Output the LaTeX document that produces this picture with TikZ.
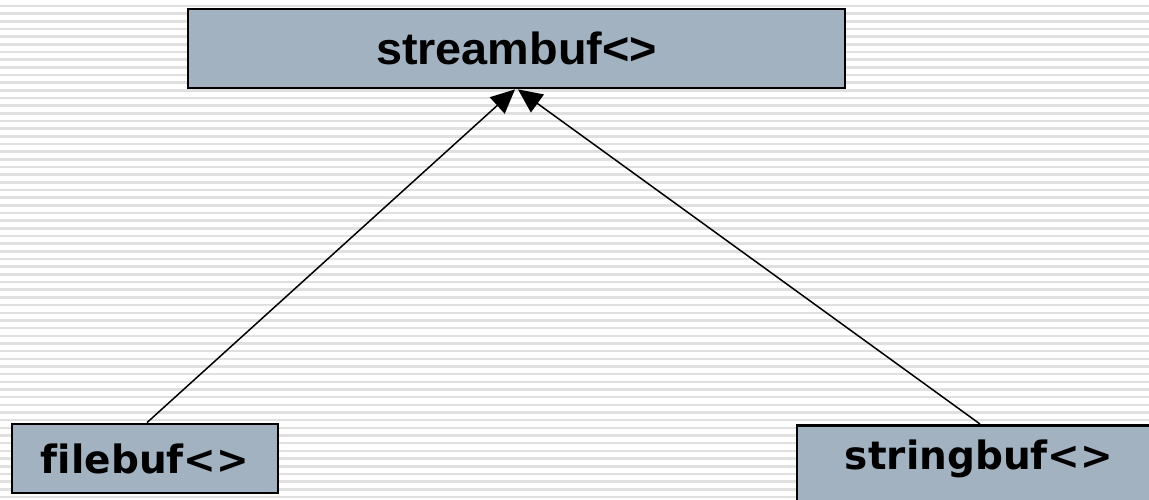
\documentclass[tikz,border=0pt]{standalone}
\usepackage{fontspec}
\setmainfont{Liberation Sans}
\newfontfamily\vfont[Ligatures=NoCommon]{DejaVu Sans}
\usetikzlibrary{arrows.meta}
\definecolor{boxfill}{HTML}{A3B2C1}
\definecolor{stripecol}{HTML}{E0E0E0}
\tikzset{
  classbox/.style={draw=black, line width=2.8pt, fill=boxfill, inner sep=0pt},
  inherit/.style={line width=1.5pt, -{Triangle[length=24pt,width=22pt]}},
  stripe/.style={fill=stripecol}
}
\begin{document}
\begin{tikzpicture}[x=1pt,y=-1pt]
\useasboundingbox (0,0) rectangle (1149,499);
\clip (0,0) rectangle (1149,499);
\fill[white] (0,0) rectangle (1149,499);
\foreach \k in {0,...,65}
  \fill[stripe] (0,{6+7.67*\k-1.3}) rectangle (1149,{6+7.67*\k+1.3});
% boxes
\node[classbox, minimum width=657pt, minimum height=79pt] (sb) at (516.5,48.5)
  {\fontsize{45}{45}\selectfont\bfseries\scalebox{1.04}[1]{streambuf<>}};
\node[classbox, minimum width=266pt, minimum height=69pt] (fb) at (145,458.5)
  {\vfont\fontsize{39}{39}\selectfont\bfseries filebuf<>};
\node[classbox, minimum width=364pt, minimum height=84pt, anchor=north] (strbox) at (979,424) {};
\node[inner sep=0pt] (strb) at (979,458.5)
  {\vfont\fontsize{39}{39}\selectfont\bfseries stringbuf<>};
% arrows
\draw[inherit] ([xshift=2pt]fb.north) -- ([xshift=-1.5pt]sb.south);
\draw[inherit] ([xshift=1pt]strbox.north) -- ([xshift=1.5pt]sb.south);
\end{tikzpicture}
\end{document}
